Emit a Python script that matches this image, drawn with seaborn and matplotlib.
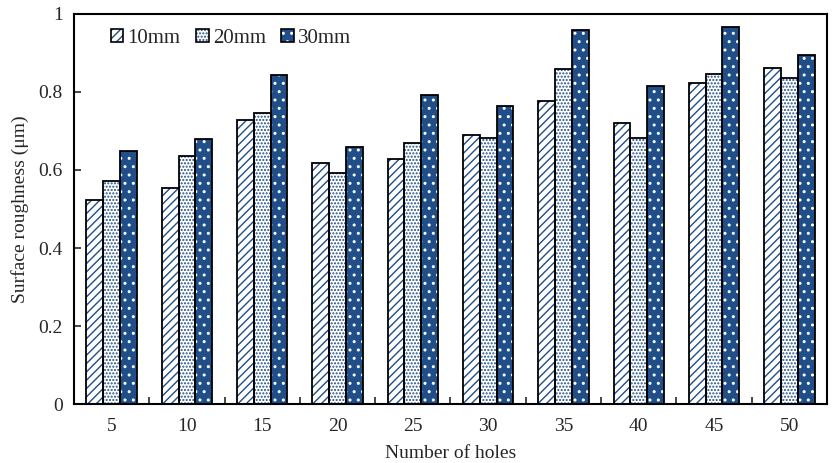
import matplotlib
matplotlib.use("Agg")
import matplotlib.pyplot as plt
import seaborn as sns
import pandas as pd
import numpy as np
from matplotlib.patches import Patch
from matplotlib.legend_handler import HandlerTuple

holes = [5, 10, 15, 20, 25, 30, 35, 40, 45, 50]
series = ["10mm", "20mm", "30mm"]
v10 = [0.523, 0.553, 0.728, 0.617, 0.628, 0.690, 0.776, 0.720, 0.822, 0.861]
v20 = [0.573, 0.635, 0.745, 0.593, 0.668, 0.682, 0.858, 0.683, 0.846, 0.837]
v30 = [0.648, 0.680, 0.843, 0.659, 0.792, 0.763, 0.959, 0.816, 0.966, 0.895]

df = pd.DataFrame({
    "holes": holes * 3,
    "series": sum([[s] * len(holes) for s in series], []),
    "value": v10 + v20 + v30,
})

sns.set_theme(style="white")
plt.rcParams["font.family"] = ["Liberation Serif", "DejaVu Serif"]
plt.rcParams["hatch.linewidth"] = 1.0

blue = "#1f4e89"
faces = {"10mm": "white", "20mm": "white", "30mm": blue}
hcols = {"10mm": blue, "20mm": blue, "30mm": "white"}
hatches = {"10mm": "////", "20mm": ".....", "30mm": ".."}

fig = plt.figure(figsize=(8.33, 4.63), dpi=100)
ax = fig.add_axes([0.0888, 0.1274, 0.904, 0.8424])

sns.barplot(data=df, x="holes", y="value", hue="series", hue_order=series,
            order=holes, width=0.67, ax=ax, legend=False, errorbar=None,
            palette=["white"] * 3, saturation=1)

patches = [p for p in ax.patches]
n = len(holes)
for i, p in enumerate(patches[:3 * n]):
    s = series[i // n]
    x, y = p.get_x(), p.get_y()
    w, h = p.get_width(), p.get_height()
    p.set_facecolor(faces[s])
    p.set_edgecolor(hcols[s])
    p.set_hatch(hatches[s])
    p.set_linewidth(0)
    ax.add_patch(plt.Rectangle((x, y), w, h, fill=False, edgecolor="black",
                               linewidth=1.3, zorder=p.get_zorder() + 0.1))

ax.set_ylim(0, 1)
ax.set_xlim(-0.5, n - 0.5)
ax.set_yticks([0, 0.2, 0.4, 0.6, 0.8, 1.0])
ax.set_yticklabels(["0", "0.2", "0.4", "0.6", "0.8", "1"])
ax.set_xticks(range(n))
ax.set_xticklabels([str(h) for h in holes])
ax.set_xticks(np.arange(0.5, n - 0.5, 1.0), minor=True)
ax.tick_params(axis="x", which="major", length=0, labelsize=14, pad=10)
ax.tick_params(axis="x", which="minor", direction="in", length=5, width=1.2, bottom=True)
ax.tick_params(axis="y", which="major", direction="in", length=5, width=1.2, left=True, labelsize=14, pad=8)
for sp in ax.spines.values():
    sp.set_visible(True)
    sp.set_color("black")
    sp.set_linewidth(1.5)

ax.set_xlabel("Number of holes", fontsize=14, labelpad=7)
ax.set_ylabel("Surface roughness (μm)", fontsize=14, labelpad=7)

leg_handles = [(Patch(facecolor=faces[s], edgecolor=hcols[s], hatch=hatches[s], linewidth=0),
                Patch(fill=False, edgecolor="black", linewidth=1.2)) for s in series]
ax.legend(leg_handles, series, loc="upper left", ncol=3, frameon=False,
          fontsize=15, handlelength=0.6, handleheight=0.6, handletextpad=0.2,
          columnspacing=0.75, bbox_to_anchor=(0.024, 1.01),
          handler_map={tuple: HandlerTuple(ndivide=1)})

fig.savefig("out.png", dpi=100)
